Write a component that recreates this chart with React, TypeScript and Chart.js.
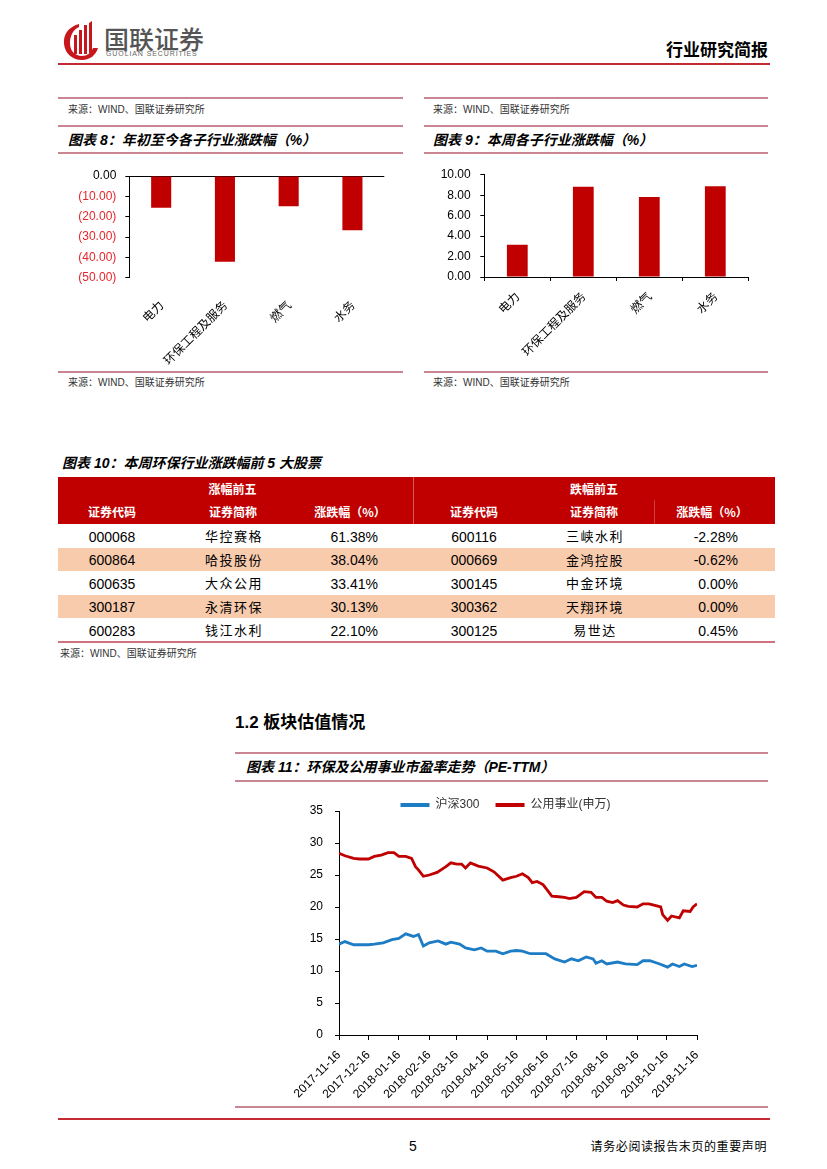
import React, { useEffect, useRef } from 'react';
import { Chart, registerables } from 'chart.js';

Chart.register(...registerables);

// ---------------- data ----------------
const subIndustries = ['电力', '环保工程及服务', '燃气', '水务'];
const ytdChangePct = [-15.6, -42.1, -14.9, -26.7];
const weekChangePct = [3.16, 8.84, 7.84, 8.87];

const gainerCodes = ['000068', '600864', '600635', '300187', '600283'];
const gainerNames = ['华控赛格', '哈投股份', '大众公用', '永清环保', '钱江水利'];
const gainerPct = ['61.38%', '38.04%', '33.41%', '30.13%', '22.10%'];
const loserCodes = ['600116', '000669', '300145', '300362', '300125'];
const loserNames = ['三峡水利', '金鸿控股', '中金环境', '天翔环境', '易世达'];
const loserPct = ['-2.28%', '-0.62%', '0.00%', '0.00%', '0.45%'];

// days since 2017-11-16
const peTickDays = [0, 30, 61, 92, 120, 151, 181, 212, 242, 273, 304, 334, 365];
const peTickLabels = [
  '2017-11-16', '2017-12-16', '2018-01-16', '2018-02-16', '2018-03-16', '2018-04-16', '2018-05-16',
  '2018-06-16', '2018-07-16', '2018-08-16', '2018-09-16', '2018-10-16', '2018-11-16',
];
const hs300Days = [0, 6, 15, 30, 36, 45, 54, 61, 68, 76, 81, 86, 92, 101, 109, 114, 123, 129, 138, 145, 151, 160, 167, 175, 181, 187, 195, 204, 211, 220, 230, 237, 244, 252, 259, 262, 268, 273, 284, 292, 304, 310, 317, 327, 335, 340, 347, 352, 360, 365];
const hs300PE = [14.2, 14.6, 14.1, 14.1, 14.2, 14.4, 14.9, 15.1, 15.8, 15.4, 15.7, 13.9, 14.4, 14.7, 14.2, 14.5, 14.2, 13.6, 13.3, 13.6, 13.1, 13.1, 12.7, 13.1, 13.2, 13.1, 12.7, 12.7, 12.7, 11.9, 11.4, 11.9, 11.6, 12.2, 11.9, 11.2, 11.6, 11.1, 11.4, 11.1, 11.0, 11.6, 11.6, 11.1, 10.6, 11.1, 10.7, 11.1, 10.7, 10.9];
const utilityDays = [0, 6, 15, 21, 30, 36, 43, 50, 56, 61, 68, 74, 78, 81, 86, 92, 100, 109, 114, 120, 125, 129, 134, 142, 151, 158, 167, 175, 181, 187, 193, 197, 202, 208, 211, 217, 224, 230, 235, 242, 250, 257, 262, 268, 273, 279, 284, 290, 295, 304, 310, 316, 321, 328, 330, 335, 339, 347, 351, 358, 361, 365];
const utilityPE = [28.4, 28.0, 27.6, 27.5, 27.5, 27.9, 28.1, 28.5, 28.5, 27.9, 27.9, 27.6, 26.3, 25.8, 24.8, 25.0, 25.4, 26.3, 26.9, 26.7, 26.7, 26.1, 26.9, 26.4, 26.1, 25.5, 24.2, 24.6, 24.8, 25.2, 24.6, 23.8, 24.0, 23.5, 22.9, 21.7, 21.6, 21.5, 21.3, 21.5, 22.4, 22.3, 21.5, 21.5, 20.9, 20.7, 21.0, 20.3, 20.1, 20.0, 20.5, 20.5, 20.3, 20.0, 18.8, 17.9, 18.6, 18.3, 19.4, 19.3, 20.0, 20.5];

// ---------------- style ----------------
const CJK = '"Noto Sans CJK SC", sans-serif';
const LAT = '"Liberation Sans", Arial, sans-serif';
const MIX = '"Liberation Sans", "Noto Sans CJK SC", sans-serif';
const BAR_RED = '#c00000';
const LINE_BLUE = '#1c7cc4';
const LINE_RED = '#c00000';
const PANEL_LINE = '#c98591';
const HEAD_LINE = '#c52a33';
const NEG_TXT = '#e3262b';

function Txt(props: any) {
  const { x, y, size, children, bold, italic, color, align, ls, family, weight } = props;
  const lh = size * 1.3;
  const style: any = {
    position: 'absolute', top: y - lh / 2, fontSize: size, lineHeight: lh + 'px', whiteSpace: 'nowrap',
    fontFamily: family || MIX, fontWeight: weight || (bold ? 700 : 400), fontStyle: italic ? 'italic' : 'normal',
    color: color || '#000', letterSpacing: ls || 0,
  };
  if (align === 'center') { style.left = x; style.transform = 'translateX(-50%)'; }
  else if (align === 'right') { style.right = 827 - x; }
  else style.left = x;
  return <div style={style}>{children}</div>;
}

function HLine({ x1, x2, y, h = 2, color = PANEL_LINE }: any) {
  return <div style={{ position: 'absolute', left: x1, top: y - h / 2, width: x2 - x1, height: h, background: color }} />;
}

function Box({ l, t, w, h, bg }: any) {
  return <div style={{ position: 'absolute', left: l, top: t, width: w, height: h, background: bg }} />;
}

function Logo() {
  return (
    <svg style={{ position: 'absolute', left: 62, top: 21 }} width={38} height={40} viewBox="0 0 38 40">
      <path d="M17 3 C6 6 1 14 2 23 C3 33 11 39 20 39 C28 39 34 34 36 27 L31 27 C29 32 25 35 20 35 C13 35 8 30 8 22 C8 14 12 8 17 6 Z" fill="#c8161d" />
      <rect x="12" y="14" width="3" height="19" fill="#c8161d" />
      <rect x="17" y="9" width="3" height="24" fill="#c8161d" />
      <rect x="22" y="4" width="3" height="29" fill="#c8161d" />
      <path d="M27 2 L30 0 L30 30 L27 33 Z" fill="#c8161d" />
    </svg>
  );
}

function BarChart(props: any) {
  const { left, top, width, height, values, yMin, yMax, yStep, yWidth, xHeight, padTop, padRight, negParen, xTickMarks, xPad, yPad } = props;
  const ref = useRef<HTMLCanvasElement | null>(null);
  useEffect(() => {
    if (!ref.current) return;
    const chart = new Chart(ref.current, {
      type: 'bar',
      data: {
        labels: subIndustries,
        datasets: [{ data: values, backgroundColor: BAR_RED, borderWidth: 0, barPercentage: 0.315, categoryPercentage: 1 }],
      },
      options: {
        animation: false, responsive: false, maintainAspectRatio: false,
        layout: { padding: { top: padTop, right: padRight, left: 0, bottom: 0 } },
        plugins: { legend: { display: false }, tooltip: { enabled: false } },
        scales: {
          x: {
            grid: xTickMarks
              ? { display: true, drawOnChartArea: false, drawTicks: true, tickLength: 4, color: '#000', offset: true }
              : { display: false },
            border: { display: !!xTickMarks, color: '#000' },
            ticks: { autoSkip: false, maxRotation: 45, minRotation: 45, padding: xPad, color: '#000', font: { size: 12, family: CJK } },
            afterFit: (s: any) => { s.height = xHeight; },
          },
          y: {
            min: yMin, max: yMax,
            ticks: {
              stepSize: yStep, padding: yPad, font: { size: 12, family: LAT },
              color: (c: any) => (negParen && c.tick && c.tick.value < 0 ? NEG_TXT : '#000'),
              callback: (v: any) => {
                const n = Number(v);
                if (negParen && n < 0) return '(' + (-n).toFixed(2) + ')';
                return n.toFixed(2);
              },
            },
            grid: {
              drawOnChartArea: !!negParen, drawTicks: true, tickLength: 4, tickColor: '#000',
              color: (c: any) => (negParen && c.tick && c.tick.value === 0 ? '#000' : 'rgba(0,0,0,0)'),
            },
            border: { display: true, color: '#000' },
            afterFit: (s: any) => { s.width = yWidth; },
          },
        },
      },
    });
    return () => chart.destroy();
  }, []);
  return <canvas ref={ref} width={width} height={height} style={{ position: 'absolute', left, top, width, height }} />;
}

// keeps the legend centred where the original puts it, independent of the y-axis width
const legendPlace = {
  id: 'legendPlace',
  beforeDraw(chart: any) {
    const lg = chart.legend;
    const ca = chart.chartArea;
    if (!lg || !ca) return;
    lg.left = ca.left - 25;
    lg.right = ca.right;
  },
};

function PELineChart() {
  const ref = useRef<HTMLCanvasElement | null>(null);
  useEffect(() => {
    if (!ref.current) return;
    const chart = new Chart(ref.current, {
      type: 'line',
      data: {
        datasets: [
          {
            label: '沪深300', data: hs300Days.map((d, i) => ({ x: d, y: hs300PE[i] })),
            borderColor: LINE_BLUE, backgroundColor: LINE_BLUE, borderWidth: 2.8, pointRadius: 0, tension: 0,
          },
          {
            label: '公用事业(申万)', data: utilityDays.map((d, i) => ({ x: d, y: utilityPE[i] })),
            borderColor: LINE_RED, backgroundColor: LINE_RED, borderWidth: 2.8, pointRadius: 0, tension: 0,
          },
        ],
      },
      plugins: [legendPlace],
      options: {
        animation: false, responsive: false, maintainAspectRatio: false,
        layout: { padding: { left: 53, right: 13, top: 0, bottom: 0 } },
        plugins: {
          tooltip: { enabled: false },
          legend: {
            position: 'top', align: 'center', maxHeight: 28,
            labels: {
              boxWidth: 29, boxHeight: 4, padding: 16, color: '#333', font: { size: 12, family: MIX },
              generateLabels: (c: any) => (Chart as any).defaults.plugins.legend.labels.generateLabels(c).map((l: any) => ({ ...l, lineWidth: 0 })),
            },
          },
        },
        scales: {
          x: {
            type: 'linear', min: 0, max: 365,
            afterBuildTicks: (s: any) => { s.ticks = peTickDays.map((v) => ({ value: v })); },
            afterFit: (s: any) => { s.height = 65; s.paddingLeft = 0; s.paddingRight = 0; },
            ticks: {
              autoSkip: false, maxRotation: 45, minRotation: 45, padding: 8, color: '#000',
              font: { size: 12, family: LAT },
              callback: (_v: any, i: number) => peTickLabels[i],
            },
            grid: { display: true, drawOnChartArea: false, drawTicks: true, tickLength: 5, color: '#000' },
            border: { display: true, color: '#000' },
          },
          y: {
            min: 0, max: 35,
            afterFit: (s: any) => { s.width = 46; },
            ticks: { stepSize: 5, padding: 12, color: '#000', font: { size: 12, family: LAT } },
            grid: { drawOnChartArea: false, drawTicks: true, tickLength: 4, color: '#000' },
            border: { display: true, color: '#000' },
          },
        },
      },
    });
    return () => chart.destroy();
  }, []);
  return <canvas ref={ref} width={470} height={317} style={{ position: 'absolute', left: 240, top: 783, width: 470, height: 317 }} />;
}

const SOURCE = '来源：WIND、国联证券研究所';

export default function App() {
  const rowTop = 524;
  const rowH = 23.5;
  return (
    <div style={{ position: 'absolute', left: 0, top: 0, width: 827, height: 1169, background: '#fff', overflow: 'hidden' }}>
      {/* header */}
      <Logo />
      <Txt x={104} y={38} size={25} color="#555" family={CJK} weight={500}>国联证券</Txt>
      <Txt x={106} y={53.5} size={7} color="#666" ls={0.9} family={LAT}>GUOLIAN SECURITIES</Txt>
      <Txt x={768} y={49} size={17} bold align="right" family={CJK}>行业研究简报</Txt>
      <HLine x1={58} x2={770} y={64} h={2} color={HEAD_LINE} />

      {/* left panel: chart 8 */}
      <HLine x1={58} x2={403} y={98.3} />
      <Txt x={68} y={109} size={10} color="#333">{SOURCE}</Txt>
      <HLine x1={58} x2={403} y={125.7} />
      <Txt x={68} y={140} size={14} bold italic>图表 8：年初至今各子行业涨跌幅（%）</Txt>
      <HLine x1={58} x2={403} y={153.3} />
      <BarChart left={58} top={158} width={345} height={212} values={ytdChangePct}
        yMin={-50} yMax={0} yStep={10} yWidth={71.3} xHeight={92.3} padTop={18} padRight={18.7}
        negParen={true} xTickMarks={false} xPad={12} yPad={9} />
      <HLine x1={58} x2={403} y={371.7} />
      <Txt x={68} y={382.3} size={10} color="#333">{SOURCE}</Txt>

      {/* right panel: chart 9 */}
      <HLine x1={424} x2={768} y={98.3} />
      <Txt x={433} y={109} size={10} color="#333">{SOURCE}</Txt>
      <HLine x1={424} x2={768} y={125.7} />
      <Txt x={433} y={140} size={14} bold italic>图表 9：本周各子行业涨跌幅（%）</Txt>
      <HLine x1={424} x2={768} y={153.3} />
      <BarChart left={424} top={158} width={344} height={212} values={weekChangePct}
        yMin={0} yMax={10} yStep={2} yWidth={60.3} xHeight={93} padTop={15.7} padRight={19.7}
        negParen={false} xTickMarks={true} xPad={8} yPad={9.6} />
      <HLine x1={424} x2={768} y={371.7} />
      <Txt x={433} y={382.3} size={10} color="#333">{SOURCE}</Txt>

      {/* table 10 */}
      <Txt x={62} y={463} size={14} bold italic>图表 10：本周环保行业涨跌幅前 5 大股票</Txt>
      <Box l={58} t={477} w={717} h={47} bg="#c00000" />
      <div style={{ position: 'absolute', left: 413, top: 477, width: 1, height: 47, background: 'rgba(255,255,255,0.35)' }} />
      <div style={{ position: 'absolute', left: 654, top: 500, width: 1, height: 24, background: 'rgba(255,255,255,0.25)' }} />
      <Txt x={232.5} y={489} size={12} bold color="#fff" family={CJK} align="center">涨幅前五</Txt>
      <Txt x={594} y={489} size={12} bold color="#fff" family={CJK} align="center">跌幅前五</Txt>
      <Txt x={112} y={512} size={12} bold color="#fff" family={CJK} align="center">证券代码</Txt>
      <Txt x={233} y={512} size={12} bold color="#fff" family={CJK} align="center">证券简称</Txt>
      <Txt x={350} y={512} size={12} bold color="#fff" family={CJK} align="center">涨跌幅（%）</Txt>
      <Txt x={474} y={512} size={12} bold color="#fff" family={CJK} align="center">证券代码</Txt>
      <Txt x={594} y={512} size={12} bold color="#fff" family={CJK} align="center">证券简称</Txt>
      <Txt x={712} y={512} size={12} bold color="#fff" family={CJK} align="center">涨跌幅（%）</Txt>
      {gainerCodes.map((_, i) => (
        <React.Fragment key={i}>
          {i % 2 === 1 ? <Box l={58} t={rowTop + i * rowH} w={717} h={rowH} bg="#f8cbad" /> : null}
          <Txt x={112} y={rowTop + i * rowH + rowH / 2 + 1} size={14} align="center" family={LAT}>{gainerCodes[i]}</Txt>
          <Txt x={234} y={rowTop + i * rowH + rowH / 2 + 1} size={13} align="center" family={CJK} ls={1.5}>{gainerNames[i]}</Txt>
          <Txt x={378} y={rowTop + i * rowH + rowH / 2 + 1} size={14} align="right" family={LAT}>{gainerPct[i]}</Txt>
          <Txt x={474} y={rowTop + i * rowH + rowH / 2 + 1} size={14} align="center" family={LAT}>{loserCodes[i]}</Txt>
          <Txt x={595} y={rowTop + i * rowH + rowH / 2 + 1} size={13} align="center" family={CJK} ls={1.5}>{loserNames[i]}</Txt>
          <Txt x={738} y={rowTop + i * rowH + rowH / 2 + 1} size={14} align="right" family={LAT}>{loserPct[i]}</Txt>
        </React.Fragment>
      ))}
      <HLine x1={58} x2={775} y={642} h={1.5} color="#d0727d" />
      <Txt x={60} y={653} size={10} color="#333">{SOURCE}</Txt>

      {/* section 1.2 */}
      <Txt x={235} y={722.7} size={17} bold>1.2 板块估值情况</Txt>
      <HLine x1={235} x2={768} y={752.7} />
      <Txt x={246} y={766.7} size={14} bold italic>图表 11：环保及公用事业市盈率走势（PE-TTM）</Txt>
      <HLine x1={235} x2={768} y={780.7} />
      <PELineChart />
      <HLine x1={235} x2={768} y={1106.7} />

      {/* footer */}
      <HLine x1={58} x2={770} y={1119} h={2.5} color={HEAD_LINE} />
      <Txt x={413} y={1146} size={14} align="center" family={LAT}>5</Txt>
      <Txt x={767} y={1146} size={12} align="right" family={CJK} ls={0.6}>请务必阅读报告末页的重要声明</Txt>
    </div>
  );
}
